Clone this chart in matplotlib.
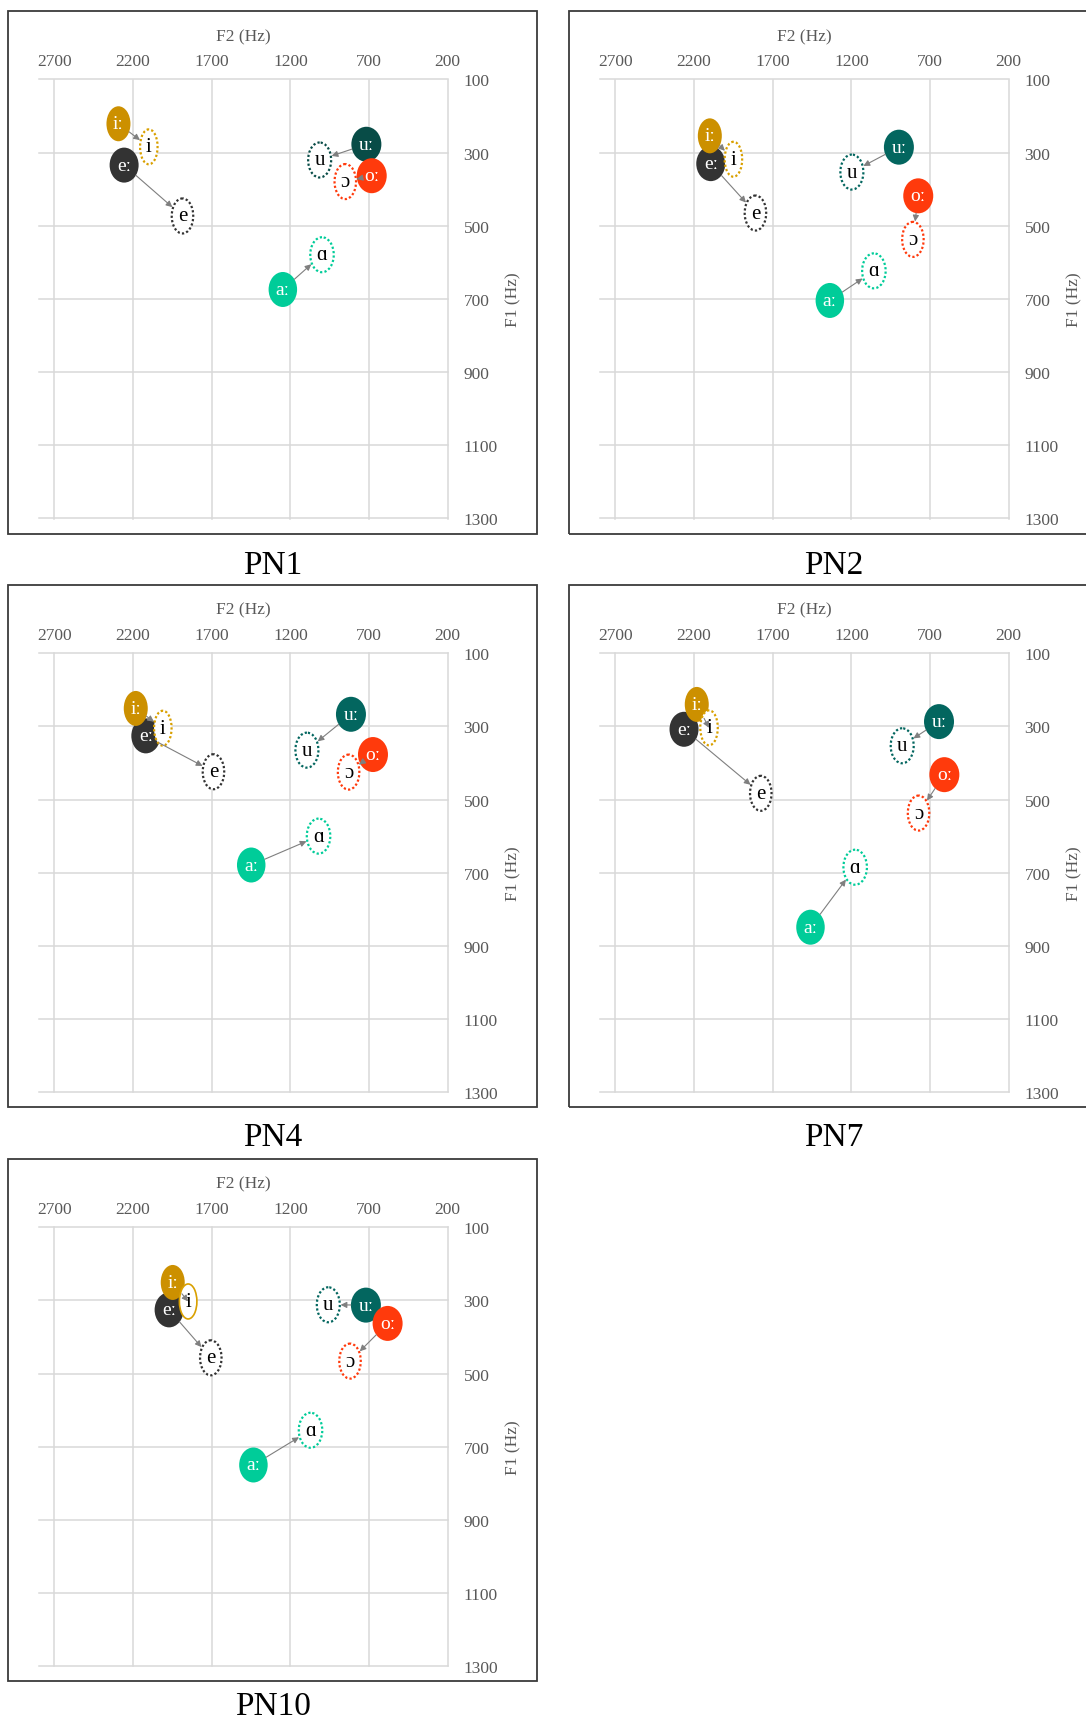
import matplotlib
matplotlib.use('Agg')
import matplotlib.pyplot as plt
import numpy as np
from matplotlib.patches import Ellipse, FancyArrowPatch, Rectangle

plt.rcParams['font.family'] = ['Liberation Serif', 'DejaVu Serif']

# vowel order: drawn in this order (later on top)
long_vowels = ['eː', 'iː', 'uː', 'oː', 'aː']
short_vowels = ['e', 'i', 'u', 'ɔ', 'ɑ']

panels = ['PN1', 'PN2', 'PN4', 'PN7', 'PN10']

# F2 / F1 (Hz)
pn1_long_f2 = [2257, 2293, 717, 683, 1248]
pn1_long_f1 = [334, 221, 277, 363, 674]
pn1_short_f2 = [1886, 2100, 1014, 851, 999]
pn1_short_f1 = [473, 284, 320, 379, 579]

pn2_long_f2 = [2094, 2100, 898, 775, 1337]
pn2_long_f1 = [330, 254, 285, 418, 704]
pn2_short_f2 = [1810, 1950, 1197, 809, 1057]
pn2_short_f1 = [465, 318, 353, 537, 623]

pn4_long_f2 = [2119, 2183, 815, 675, 1449]
pn4_long_f1 = [326, 251, 267, 377, 679]
pn4_short_f2 = [1689, 2011, 1095, 830, 1021]
pn4_short_f1 = [424, 305, 365, 425, 600]

pn7_long_f2 = [2264, 2183, 643, 609, 1460]
pn7_long_f1 = [308, 240, 287, 432, 849]
pn7_short_f2 = [1776, 2105, 877, 773, 1176]
pn7_short_f1 = [483, 304, 353, 537, 685]

pn10_long_f2 = [1971, 1948, 720, 582, 1435]
pn10_long_f1 = [326, 251, 313, 363, 750]
pn10_short_f2 = [1706, 1850, 959, 821, 1072]
pn10_short_f1 = [457, 303, 312, 466, 655]

f2_ticks = [2700, 2200, 1700, 1200, 700, 200]
f1_ticks = [100, 300, 500, 700, 900, 1100, 1300]

data = {
    'PN1': (pn1_long_f2, pn1_long_f1, pn1_short_f2, pn1_short_f1),
    'PN2': (pn2_long_f2, pn2_long_f1, pn2_short_f2, pn2_short_f1),
    'PN4': (pn4_long_f2, pn4_long_f1, pn4_short_f2, pn4_short_f1),
    'PN7': (pn7_long_f2, pn7_long_f1, pn7_short_f2, pn7_short_f1),
    'PN10': (pn10_long_f2, pn10_long_f1, pn10_short_f2, pn10_short_f1),
}

# styles
fill_colors = ['#333333', '#CC9000', '#03665F', '#FF3A0C', '#00CC99']
edge_colors = ['#333333', '#D9A000', '#03665F', '#FF3A0C', '#00CC99']
long_w_px = [29, 24, 30, 30, 28.5]
short_w_px = [21.5, 17.5, 23, 21.5, 23.5]
h_px = 35
grey_txt = '#595959'

W, H = 1086, 1724
fig = plt.figure(figsize=(W / 100, H / 100), dpi=100)

ax_w, ax_h = 409, 439
col_left = [38.7, 599.7]
row_top = [80.5, 654.2, 1228.2]
caption_gap = [46, 45, 40]
hz_per_px_x = 2600 / ax_w
hz_per_px_y = 1200 / ax_h

for k, name in enumerate(panels):
    row, col = divmod(k, 2)
    left, top = col_left[col], row_top[row]
    ax = fig.add_axes([left / W, 1 - (top + ax_h) / H, ax_w / W, ax_h / H])

    # outer frame and caption
    fx0, fy0 = left - 30.4, top - 68.3
    fw, fh = 528.7, ax_h + 68.3 + 15
    fig.add_artist(Rectangle((fx0 / W, 1 - (fy0 + fh) / H), fw / W, fh / H,
                             transform=fig.transFigure, fill=False, ec='#3a3a3a', lw=1.3))
    fig.text((fx0 + fw / 2) / W, 1 - (top + ax_h + caption_gap[row]) / H, name,
             ha='center', va='center', fontsize=24, color='black')

    ax.set_xlim(2800, 200)
    ax.set_ylim(1300, 100)
    ax.set_xticks(f2_ticks)
    ax.set_yticks(f1_ticks)
    ax.xaxis.tick_top()
    ax.yaxis.tick_right()
    ax.tick_params(length=0, labelsize=12.5, labelcolor=grey_txt)
    ax.tick_params(axis='x', pad=7.7)
    ax.tick_params(axis='y', pad=11.5)
    for t in ax.get_yticklabels():
        t.set_ha('left')
    ax.grid(True, color='#D9D9D9', lw=1.1)
    for ln in ax.get_xgridlines() + ax.get_ygridlines():
        ln.set_clip_on(False)
    ax.set_axisbelow(True)
    for s in ax.spines.values():
        s.set_visible(False)

    ax.set_xlabel('F2 (Hz)', fontsize=12.5, color=grey_txt)
    ax.xaxis.set_label_position('top')
    ax.xaxis.label.set_va('center')
    ax.xaxis.set_label_coords(0.5, 1 + 43.5 / ax_h)
    ax.set_ylabel('F1 (Hz)', fontsize=12.5, color=grey_txt, rotation=90)
    ax.yaxis.set_label_position('right')
    ax.yaxis.label.set_va('center')
    ax.yaxis.label.set_ha('center')
    ax.yaxis.set_label_coords(1 + 66 / ax_w, 0.5)

    lf2, lf1, sf2, sf1 = data[name]
    for i in range(len(long_vowels)):
        fc = fill_colors[i]
        if name == 'PN1' and long_vowels[i] == 'uː':
            fc = '#084C47'
        el_long = Ellipse((lf2[i], lf1[i]), long_w_px[i] * hz_per_px_x, h_px * hz_per_px_y,
                          fc=fc, ec='none', zorder=3 + i * 0.1)
        ax.add_patch(el_long)
        ax.text(lf2[i], lf1[i], long_vowels[i], ha='center', va='center',
                fontsize=14, color='white', zorder=3.05 + i * 0.1)

        ec = edge_colors[i]
        if name == 'PN1' and short_vowels[i] == 'u':
            ec = '#084C47'
        style = '-' if (name == 'PN10' and short_vowels[i] == 'i') else (0, (1, 1))
        lw = 1.2 if style == '-' else 1.6
        el_short = Ellipse((sf2[i], sf1[i]), short_w_px[i] * hz_per_px_x, h_px * hz_per_px_y,
                           fc='white', ec=ec, ls=style, lw=lw, zorder=4 + i * 0.1)
        ax.add_patch(el_short)
        ax.text(sf2[i], sf1[i], short_vowels[i], ha='center', va='center',
                fontsize=15, color='black', zorder=4.05 + i * 0.1)

        arr = FancyArrowPatch((lf2[i], lf1[i]), (sf2[i], sf1[i]), arrowstyle='-|>',
                              mutation_scale=9, color='#7F7F7F', lw=0.8,
                              patchA=el_long, patchB=el_short, shrinkA=0, shrinkB=0,
                              zorder=5)
        ax.add_patch(arr)

fig.savefig('out.png', dpi=100)
